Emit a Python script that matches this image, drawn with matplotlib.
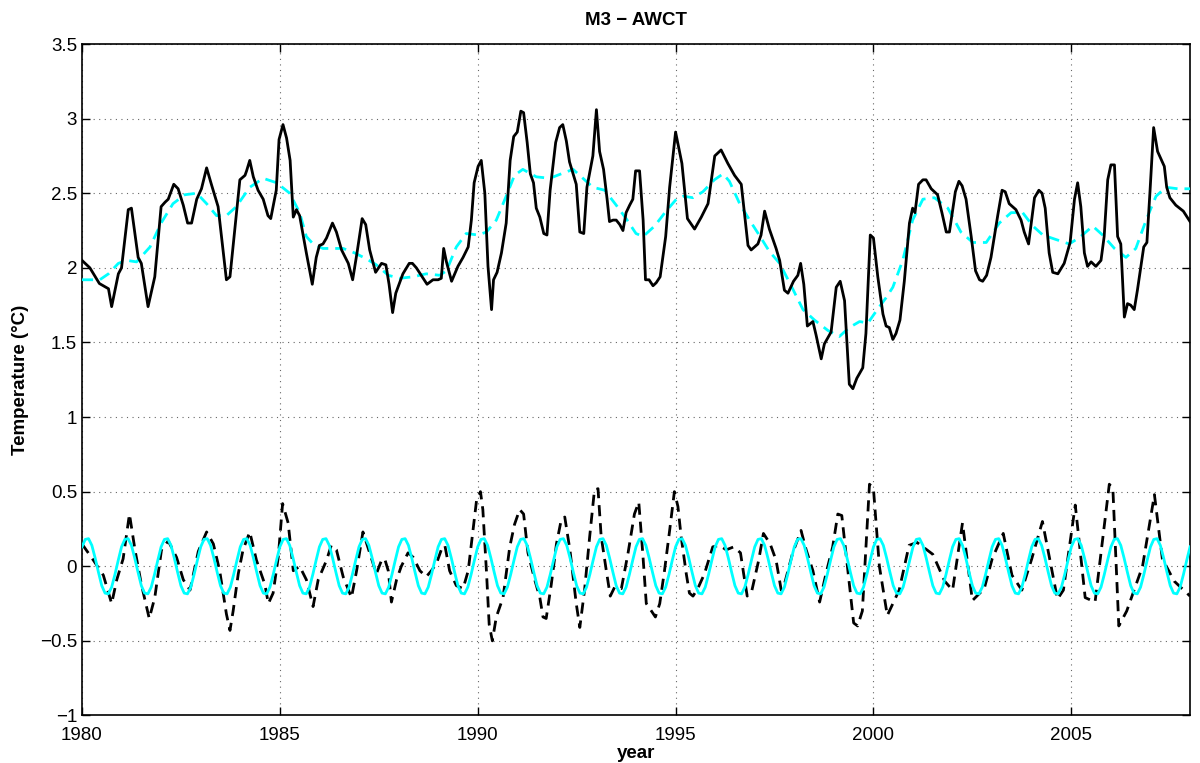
import numpy as np
import matplotlib
matplotlib.use("Agg")
import matplotlib.pyplot as plt

plt.rcParams['font.family'] = ['Liberation Sans', 'DejaVu Sans']

solid_year = [1980.0, 1980.2, 1980.44, 1980.67, 1980.75, 1980.92, 1981.0, 1981.17, 1981.25, 1981.42,
              1981.5, 1981.67, 1981.84, 1982.0, 1982.1, 1982.18, 1982.32, 1982.43, 1982.56, 1982.67,
              1982.77, 1982.9, 1983.02, 1983.15, 1983.27, 1983.44, 1983.65, 1983.74, 1983.99, 1984.12,
              1984.16, 1984.24, 1984.33, 1984.45, 1984.58, 1984.7, 1984.77, 1984.91, 1984.98, 1985.08,
              1985.17, 1985.26, 1985.34, 1985.42, 1985.5, 1985.67, 1985.82, 1985.92, 1986.0, 1986.09,
              1986.18, 1986.33, 1986.43, 1986.56, 1986.73, 1986.84, 1986.95, 1987.08, 1987.17, 1987.27,
              1987.42, 1987.57, 1987.68, 1987.76, 1987.85, 1987.93, 1988.11, 1988.27, 1988.35, 1988.45,
              1988.62, 1988.72, 1988.87, 1989.0, 1989.08, 1989.14, 1989.21, 1989.34, 1989.5, 1989.63,
              1989.76, 1989.84, 1989.91, 1990.01, 1990.09, 1990.18, 1990.26, 1990.35, 1990.4, 1990.49,
              1990.6, 1990.72, 1990.82, 1990.91, 1991.0, 1991.09, 1991.16, 1991.25, 1991.33, 1991.41,
              1991.48, 1991.57, 1991.67, 1991.75, 1991.83, 1991.97, 1992.07, 1992.15, 1992.24, 1992.32,
              1992.49, 1992.58, 1992.68, 1992.76, 1992.91, 1993.0, 1993.08, 1993.18, 1993.27, 1993.33,
              1993.42, 1993.5, 1993.59, 1993.67, 1993.75, 1993.84, 1993.92, 1993.99, 1994.09, 1994.18,
              1994.24, 1994.33, 1994.43, 1994.51, 1994.61, 1994.75, 1994.85, 1995.0, 1995.16, 1995.3,
              1995.48, 1995.65, 1995.82, 1995.99, 1996.15, 1996.32, 1996.49, 1996.66, 1996.83, 1996.91,
              1997.08, 1997.16, 1997.25, 1997.37, 1997.54, 1997.63, 1997.75, 1997.84, 1997.98, 1998.09,
              1998.16, 1998.24, 1998.33, 1998.47, 1998.55, 1998.68, 1998.76, 1998.93, 1999.06, 1999.16,
              1999.27, 1999.39, 1999.48, 1999.58, 1999.73, 1999.81, 1999.92, 2000.0, 2000.11, 2000.24,
              2000.32, 2000.4, 2000.49, 2000.57, 2000.67, 2000.78, 2000.91, 2000.99, 2001.05, 2001.14,
              2001.25, 2001.33, 2001.46, 2001.62, 2001.73, 2001.84, 2001.92, 2002.07, 2002.16, 2002.24,
              2002.34, 2002.47, 2002.58, 2002.68, 2002.76, 2002.86, 2002.97, 2003.14, 2003.25, 2003.33,
              2003.43, 2003.6, 2003.73, 2003.81, 2003.92, 2004.07, 2004.18, 2004.26, 2004.34, 2004.44,
              2004.53, 2004.66, 2004.82, 2004.97, 2005.08, 2005.16, 2005.24, 2005.33, 2005.41, 2005.5,
              2005.62, 2005.75, 2005.83, 2005.92, 2006.0, 2006.09, 2006.17, 2006.25, 2006.34, 2006.42,
              2006.5, 2006.59, 2006.67, 2006.83, 2006.91, 2006.99, 2007.08, 2007.18, 2007.35, 2007.41,
              2007.49, 2007.64, 2007.83, 2008.0]
solid_temp = [2.05, 2.00, 1.895, 1.86, 1.74, 1.96, 2.00, 2.39, 2.40, 2.07,
              2.03, 1.74, 1.94, 2.41, 2.44, 2.46, 2.56, 2.53, 2.42, 2.30,
              2.30, 2.46, 2.53, 2.67, 2.56, 2.41, 1.92, 1.94, 2.59, 2.62,
              2.65, 2.72, 2.61, 2.52, 2.46, 2.35, 2.33, 2.52, 2.86, 2.96,
              2.87, 2.72, 2.34, 2.39, 2.35, 2.10, 1.89, 2.07, 2.15, 2.16,
              2.20, 2.30, 2.24, 2.12, 2.03, 1.92, 2.10, 2.33, 2.29, 2.12,
              1.97, 2.03, 2.02, 1.89, 1.70, 1.83, 1.96, 2.03, 2.03, 2.00,
              1.93, 1.89, 1.92, 1.92, 1.93, 2.13, 2.04, 1.91, 2.01, 2.07,
              2.14, 2.32, 2.57, 2.68, 2.72, 2.50, 2.01, 1.72, 1.92, 1.97,
              2.10, 2.30, 2.72, 2.88, 2.91, 3.05, 3.04, 2.84, 2.63, 2.57,
              2.40, 2.34, 2.23, 2.22, 2.52, 2.84, 2.94, 2.96, 2.85, 2.71,
              2.56, 2.24, 2.23, 2.54, 2.75, 3.06, 2.78, 2.66, 2.46, 2.31,
              2.32, 2.32, 2.29, 2.25, 2.37, 2.42, 2.46, 2.65, 2.65, 2.32,
              1.92, 1.92, 1.88, 1.90, 1.94, 2.21, 2.54, 2.91, 2.70, 2.33,
              2.26, 2.34, 2.43, 2.75, 2.79, 2.70, 2.62, 2.56, 2.15, 2.12,
              2.16, 2.22, 2.38, 2.26, 2.13, 2.05, 1.85, 1.83, 1.91, 1.95,
              2.03, 1.89, 1.61, 1.64, 1.55, 1.39, 1.49, 1.57, 1.87, 1.91,
              1.78, 1.22, 1.19, 1.26, 1.33, 1.56, 2.22, 2.20, 1.94, 1.69,
              1.61, 1.60, 1.52, 1.56, 1.65, 1.91, 2.30, 2.40, 2.37, 2.56,
              2.59, 2.59, 2.53, 2.49, 2.37, 2.24, 2.24, 2.51, 2.58, 2.55,
              2.46, 2.21, 1.98, 1.92, 1.91, 1.95, 2.07, 2.35, 2.52, 2.51,
              2.43, 2.39, 2.32, 2.24, 2.16, 2.47, 2.52, 2.50, 2.40, 2.10,
              1.97, 1.96, 2.03, 2.17, 2.46, 2.57, 2.41, 2.10, 2.01, 2.04,
              2.01, 2.05, 2.21, 2.59, 2.69, 2.69, 2.21, 2.16, 1.67, 1.76,
              1.75, 1.72, 1.85, 2.14, 2.17, 2.52, 2.94, 2.78, 2.68, 2.54,
              2.47, 2.42, 2.38, 2.31]

# low-passed temperature (cyan dashed)
smooth_year = [1980.0, 1980.45, 1980.67, 1980.92, 1981.13, 1981.38, 1981.72, 1982.0, 1982.3, 1982.6,
               1982.9, 1983.15, 1983.4, 1983.65, 1983.9, 1984.24, 1984.58, 1984.92, 1985.25, 1985.5,
               1985.67, 1985.84, 1986.09, 1986.35, 1986.6, 1986.89, 1987.19, 1987.44, 1987.74, 1988.03,
               1988.37, 1988.7, 1989.04, 1989.21, 1989.46, 1989.71, 1990.01, 1990.22, 1990.47, 1990.72,
               1990.93, 1991.14, 1991.48, 1991.82, 1992.11, 1992.41, 1992.66, 1992.91, 1993.21, 1993.5,
               1993.75, 1994.0, 1994.18, 1994.47, 1994.76, 1995.02, 1995.2, 1995.44, 1995.69, 1995.98,
               1996.2, 1996.36, 1996.62, 1996.87, 1997.16, 1997.37, 1997.63, 1997.92, 1998.22, 1998.51,
               1998.85, 1999.14, 1999.39, 1999.65, 1999.86, 2000.07, 2000.32, 2000.49, 2000.74, 2000.99,
               2001.25, 2001.54, 2001.88, 2002.21, 2002.51, 2002.85, 2003.18, 2003.48, 2003.77, 2004.03,
               2004.28, 2004.61, 2004.95, 2005.24, 2005.54, 2005.79, 2006.09, 2006.38, 2006.63, 2006.89,
               2007.14, 2007.39, 2007.69, 2008.0]
smooth_temp = [1.92, 1.92, 1.96, 2.03, 2.05, 2.04, 2.14, 2.30, 2.43, 2.49,
               2.50, 2.43, 2.35, 2.35, 2.41, 2.54, 2.60, 2.57, 2.50, 2.37,
               2.21, 2.16, 2.13, 2.13, 2.13, 2.10, 2.06, 2.02, 1.95, 1.93,
               1.94, 1.96, 1.95, 1.98, 2.14, 2.23, 2.22, 2.24, 2.32, 2.48,
               2.62, 2.66, 2.61, 2.60, 2.63, 2.66, 2.60, 2.54, 2.52, 2.42,
               2.33, 2.23, 2.21, 2.28, 2.38, 2.46, 2.48, 2.47, 2.51, 2.59,
               2.63, 2.58, 2.43, 2.32, 2.20, 2.11, 2.03, 1.88, 1.72, 1.65,
               1.58, 1.54, 1.60, 1.64, 1.63, 1.71, 1.80, 1.87, 2.05, 2.32,
               2.46, 2.47, 2.40, 2.24, 2.17, 2.17, 2.30, 2.37, 2.37, 2.28,
               2.22, 2.19, 2.16, 2.21, 2.28, 2.22, 2.13, 2.07, 2.13, 2.32,
               2.48, 2.54, 2.53, 2.53]

# high-frequency anomaly (black dashed)
anom_year = [1980.0, 1980.29, 1980.54, 1980.75, 1980.88, 1981.04, 1981.2, 1981.34, 1981.5, 1981.7,
             1981.84, 1982.01, 1982.18, 1982.39, 1982.56, 1982.73, 1982.94, 1983.15, 1983.32, 1983.48,
             1983.65, 1983.74, 1983.82, 1983.95, 1984.07, 1984.24, 1984.41, 1984.62, 1984.71, 1984.83,
             1984.96, 1985.07, 1985.21, 1985.34, 1985.5, 1985.67, 1985.84, 1985.97, 1986.18, 1986.3,
             1986.43, 1986.6, 1986.81, 1986.94, 1987.1, 1987.27, 1987.44, 1987.57, 1987.65, 1987.74,
             1987.82, 1987.95, 1988.07, 1988.24, 1988.37, 1988.54, 1988.7, 1988.83, 1988.96, 1989.08,
             1989.17, 1989.29, 1989.46, 1989.63, 1989.76, 1989.84, 1989.97, 1990.07, 1990.13, 1990.22,
             1990.29, 1990.37, 1990.47, 1990.64, 1990.81, 1990.93, 1991.06, 1991.16, 1991.27, 1991.44,
             1991.57, 1991.65, 1991.73, 1991.86, 1991.99, 1992.11, 1992.2, 1992.33, 1992.49, 1992.58,
             1992.7, 1992.83, 1992.95, 1993.04, 1993.12, 1993.25, 1993.35, 1993.46, 1993.63, 1993.8,
             1993.96, 1994.07, 1994.17, 1994.26, 1994.34, 1994.49, 1994.6, 1994.72, 1994.85, 1994.97,
             1995.06, 1995.14, 1995.27, 1995.35, 1995.44, 1995.56, 1995.73, 1995.94, 1996.11, 1996.28,
             1996.47, 1996.64, 1996.72, 1996.81, 1996.93, 1997.1, 1997.22, 1997.39, 1997.54, 1997.67,
             1997.75, 1997.96, 1998.17, 1998.3, 1998.47, 1998.64, 1998.8, 1998.97, 1999.1, 1999.2,
             1999.5, 1999.6, 1999.72, 1999.9, 2000.0, 2000.15, 2000.35, 2000.65, 2000.9, 2001.1,
             2001.5, 2001.8, 2002.0, 2002.25, 2002.5, 2002.8, 2003.0, 2003.28, 2003.5, 2003.75,
             2004.0, 2004.27, 2004.65, 2004.8, 2005.1, 2005.35, 2005.6, 2005.96, 2006.05, 2006.2,
             2006.4, 2006.8, 2007.1, 2007.3, 2007.6, 2008.0]
anom_temp = [0.15, 0.04, -0.06, -0.25, -0.09, 0.05, 0.35, 0.11, -0.12, -0.35,
             -0.21, 0.11, 0.17, 0.06, -0.09, -0.16, 0.10, 0.23, 0.15, -0.03,
             -0.32, -0.43, -0.30, -0.05, 0.11, 0.23, 0.04, -0.12, -0.25, -0.18,
             0.06, 0.42, 0.29, -0.03, 0.00, -0.09, -0.27, -0.09, 0.04, 0.14,
             0.11, -0.07, -0.21, -0.03, 0.23, 0.09, -0.05, 0.04, 0.05, -0.03,
             -0.24, -0.09, 0.00, 0.09, 0.06, -0.03, -0.07, -0.03, 0.02, 0.11,
             0.14, -0.03, -0.13, -0.15, -0.03, 0.15, 0.44, 0.50, 0.38, -0.03,
             -0.39, -0.50, -0.34, -0.21, 0.13, 0.28, 0.38, 0.35, 0.09, -0.09,
             -0.21, -0.34, -0.35, -0.12, 0.15, 0.31, 0.33, 0.11, -0.25, -0.41,
             -0.16, 0.20, 0.51, 0.52, 0.20, -0.03, -0.20, -0.14, -0.15, 0.09,
             0.35, 0.43, 0.09, -0.25, -0.28, -0.34, -0.25, -0.03, 0.24, 0.50,
             0.40, 0.20, -0.05, -0.18, -0.20, -0.15, -0.05, 0.13, 0.14, 0.11,
             0.13, 0.09, -0.05, -0.20, -0.16, 0.04, 0.22, 0.15, 0.04, -0.16,
             -0.12, 0.09, 0.24, 0.11, -0.03, -0.24, -0.05, 0.13, 0.35, 0.34,
             -0.38, -0.40, -0.30, 0.55, 0.52, 0.00, -0.33, -0.16, 0.14, 0.16,
             0.08, -0.10, -0.16, 0.29, -0.23, -0.15, 0.05, 0.22, -0.06, -0.16,
             0.05, 0.30, -0.22, -0.16, 0.41, -0.21, -0.24, 0.55, 0.52, -0.40,
             -0.30, 0.00, 0.48, 0.05, -0.10, -0.20]

# fitted annual cycle (cyan solid), Jan..Dec, repeated every year
season = [0.13, 0.18, 0.185, 0.14, 0.055, -0.04, -0.13, -0.18, -0.185, -0.14, -0.055, 0.04]
n_years = 28

season_year = 1980 + np.arange(12 * n_years + 1) / 12.0
season_temp = np.append(np.tile(season, n_years), season[0])

fig = plt.figure(figsize=(12, 7.63), dpi=100)
ax = fig.add_axes([0.0683, 0.0623, 0.9234, 0.88])

ax.plot(solid_year, solid_temp, color='k', lw=2.0, zorder=4)
ax.plot(smooth_year, smooth_temp, color='cyan', lw=2.0, ls=(0, (4, 2.5)), zorder=3)
ax.plot(anom_year, anom_temp, color='k', lw=2.0, ls=(0, (4, 2.5)), zorder=3)
ax.plot(season_year, season_temp, color='cyan', lw=2.0, zorder=4)

ax.set_xlim(1980, 2008)
ax.set_ylim(-1, 3.5)
ax.set_xticks(np.arange(1980, 2008, 5))
ax.set_yticks(np.arange(-1, 3.51, 0.5))
ax.set_yticklabels(['\u22121', '\u22120.5', '0', '0.5', '1', '1.5', '2', '2.5', '3', '3.5'])
ax.grid(True, ls=(0, (1, 4)), color='k', lw=0.8, alpha=0.6)
ax.tick_params(direction='in', top=True, right=True, length=6, width=1, labelsize=13.5)
ax.tick_params(axis='x', pad=8)
for s in ax.spines.values():
    s.set_linewidth(1.2)

ax.set_title('M3 \u2212 AWCT', fontsize=13.5, fontweight='bold', pad=14)
ax.set_xlabel('year', fontsize=13.5, fontweight='bold', labelpad=1)
ax.set_ylabel('Temperature (\u00b0C)', fontsize=13.5, fontweight='bold', labelpad=8)

fig.savefig('out.png', dpi=100)
